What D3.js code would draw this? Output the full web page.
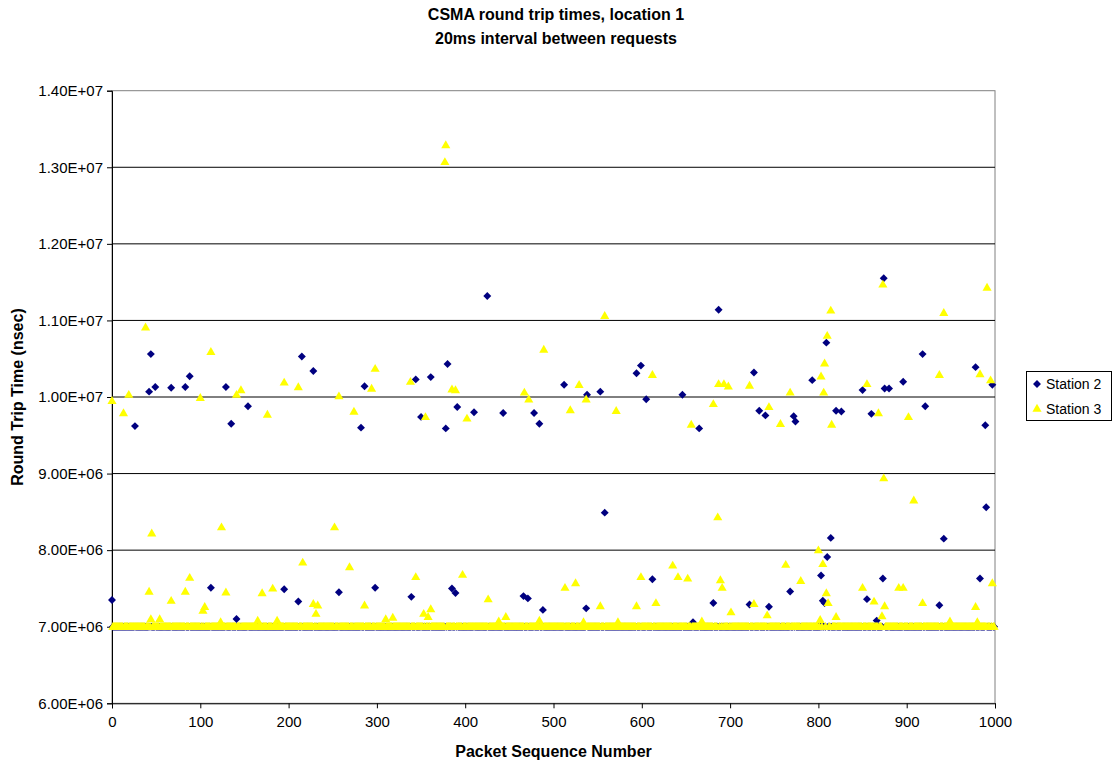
<!DOCTYPE html>
<html>
<head>
<meta charset="utf-8">
<script src="https://cdn.jsdelivr.net/npm/d3@7"></script>
<style>
  html, body { margin: 0; padding: 0; background: #fff; }
  svg { display: block; font-family: "Liberation Sans", Arial, sans-serif; }
</style>
</head>
<body>
<svg id="chart" width="1116" height="762"></svg>
<script>
// Axis ticks
const xTicks = [0, 100, 200, 300, 400, 500, 600, 700, 800, 900, 1000];
const yTicks = [6e6, 7e6, 8e6, 9e6, 1.0e7, 1.1e7, 1.2e7, 1.3e7, 1.4e7];

// Packets 0..999 sit at the 7.0E+06 floor unless listed below
const packetCount = 1000;
const floorRtt = 7.0e6;

// Station 2: packet number and round trip time (units of 1E+06 nsec)
const station2Seq = [0, 26, 42, 44, 49, 67, 83, 88, 112, 129, 135, 141, 154, 195, 211, 215, 228, 257, 282, 286,
  298, 339, 344, 350, 361, 378, 380, 385, 389, 391, 410, 425, 443, 466, 471, 478, 484, 488, 512, 537,
  538, 553, 558, 594, 599, 605, 612, 646, 658, 665, 681, 687, 722, 727, 733, 740, 744, 768, 772, 774,
  793, 803, 805, 807, 809, 810, 814, 820, 826, 850, 855, 860, 866, 873, 874, 875, 880, 896, 918, 921,
  937, 942, 978, 983, 989, 990, 997];
const station2Rtt = [7.35, 9.62, 10.07, 10.56, 10.13, 10.12, 10.13, 10.27, 7.51, 10.13, 9.65, 7.10, 9.88, 7.49, 7.33, 10.53, 10.34, 7.45, 9.60, 10.14,
  7.51, 7.39, 10.23, 9.74, 10.26, 9.59, 10.43, 7.50, 7.44, 9.87, 9.80, 11.32, 9.79, 7.40, 7.37, 9.79, 9.65, 7.22, 10.16, 7.24,
  10.03, 10.07, 8.49, 10.31, 10.41, 9.97, 7.62, 10.03, 7.06, 9.59, 7.31, 11.14, 7.29, 10.32, 9.82, 9.76, 7.26, 7.46, 9.75, 9.68,
  10.22, 7.67, 7.34, 7.31, 10.71, 7.91, 8.16, 9.82, 9.81, 10.09, 7.36, 9.78, 7.08, 7.63, 11.55, 10.11, 10.11, 10.20, 10.56, 9.88,
  7.28, 8.15, 10.39, 7.63, 9.63, 8.56, 10.16];

// Station 3: packet number and round trip time (units of 1E+06 nsec)
const station3Seq = [0, 13, 19, 38, 42, 44, 45, 54, 67, 83, 88, 100, 103, 105, 112, 123, 124, 129, 141, 146,
  165, 170, 176, 182, 187, 195, 211, 216, 228, 231, 233, 252, 257, 269, 274, 286, 294, 298, 310, 318,
  338, 344, 353, 355, 358, 361, 377, 378, 385, 389, 397, 402, 426, 438, 446, 467, 472, 484, 489, 513,
  519, 525, 529, 534, 537, 553, 558, 571, 573, 594, 599, 612, 616, 635, 641, 652, 656, 668, 681, 686,
  687, 689, 691, 693, 698, 701, 722, 727, 742, 744, 757, 763, 768, 780, 800, 802, 803, 805, 806, 807,
  809, 810, 811, 814, 815, 820, 850, 855, 863, 868, 872, 873, 874, 875, 891, 896, 902, 908, 918, 937,
  942, 949, 978, 980, 983, 991, 995, 997];
const station3Rtt = [9.95, 9.79, 10.03, 10.91, 7.46, 7.10, 8.22, 7.10, 7.34, 7.46, 7.64, 9.99, 7.21, 7.26, 10.59, 7.06, 8.30, 7.45, 10.03, 10.09,
  7.08, 7.44, 9.77, 7.50, 7.08, 10.19, 10.13, 7.84, 7.30, 7.17, 7.28, 8.30, 10.01, 7.78, 9.81, 7.28, 10.11, 10.37, 7.10, 7.12,
  10.20, 7.65, 7.17, 9.74, 7.13, 7.23, 13.07, 13.29, 10.10, 10.09, 7.68, 9.72, 7.36, 7.07, 7.13, 10.06, 9.97, 7.08, 10.62, 7.51,
  9.83, 7.57, 10.16, 7.06, 9.97, 7.27, 11.06, 9.82, 7.06, 7.27, 7.65, 10.29, 7.31, 7.80, 7.65, 7.63, 9.64, 7.07, 9.91, 8.43,
  10.17, 7.61, 7.51, 10.17, 10.14, 7.19, 10.15, 7.30, 7.15, 9.87, 9.65, 7.81, 10.06, 7.60, 8.00, 7.09, 10.27, 7.82, 10.06, 10.44,
  7.44, 10.80, 7.31, 11.13, 9.64, 7.13, 7.51, 10.17, 7.33, 9.79, 7.14, 11.47, 8.94, 7.27, 7.51, 7.51, 9.74, 8.65, 7.31, 10.29,
  11.10, 7.07, 7.26, 7.06, 10.30, 11.43, 10.22, 7.57];

const seriesNames = ["Station 2", "Station 3"];
const seriesColors = ["#000080", "#FFFF00"];

// Build the full per-packet series for one station
function buildSeries(seqs, rtts) {
  const listed = new Map(seqs.map((s, i) => [s, rtts[i] * 1e6]));
  return d3.range(packetCount).map(s => ({ seq: s, rtt: listed.has(s) ? listed.get(s) : floorRtt }));
}
const station2 = buildSeries(station2Seq, station2Rtt);
const station3 = buildSeries(station3Seq, station3Rtt);

const svg = d3.select("#chart");
const plot = { left: 112, right: 995, top: 90.7, bottom: 703.3 };

const x = d3.scaleLinear().domain([0, 1000]).range([plot.left, plot.right]);
const y = d3.scaleLinear().domain([6e6, 1.4e7]).range([plot.bottom, plot.top]);

// "1.40E+07" style labels
function sci(v) {
  const e = Math.floor(Math.log10(v));
  const m = v / Math.pow(10, e);
  return m.toFixed(2) + "E" + (e >= 0 ? "+" : "-") + String(Math.abs(e)).padStart(2, "0");
}

// Plot area frame
svg.append("rect")
  .attr("x", plot.left).attr("y", plot.top)
  .attr("width", plot.right - plot.left).attr("height", plot.bottom - plot.top)
  .attr("fill", "#fff").attr("stroke", "#808080").attr("stroke-width", 1);

// Horizontal gridlines
svg.append("g").selectAll("line")
  .data(yTicks.filter(t => t > 6e6 && t < 1.4e7))
  .join("line")
  .attr("x1", plot.left).attr("x2", plot.right)
  .attr("y1", d => y(d)).attr("y2", d => y(d))
  .attr("stroke", "#000").attr("stroke-width", 1);

// Axes
const yAxis = d3.axisLeft(y).tickValues(yTicks).tickFormat(sci).tickSizeOuter(0).tickSize(5).tickPadding(4);
const xAxis = d3.axisBottom(x).tickValues(xTicks).tickFormat(d3.format("d")).tickSizeOuter(0).tickSize(5).tickPadding(8);

const gy = svg.append("g").attr("transform", `translate(${plot.left},0)`).call(yAxis);
const gx = svg.append("g").attr("transform", `translate(0,${plot.bottom})`).call(xAxis);
[gx, gy].forEach(g => {
  g.selectAll("path.domain").attr("stroke", "#000");
  g.selectAll(".tick line").attr("stroke", "#000");
  g.selectAll(".tick text").attr("fill", "#000").style("font-size", "15px")
    .style("font-family", "'Liberation Sans', Arial, sans-serif");
});

// Markers
const diamond = d3.symbol().type(d3.symbolDiamond2).size(40);
const triangle = d3.symbol().type(d3.symbolTriangle).size(36);

svg.append("g").selectAll("path")
  .data(station2)
  .join("path")
  .attr("transform", d => `translate(${x(d.seq)},${y(d.rtt)})`)
  .attr("d", diamond)
  .attr("fill", seriesColors[0]);

svg.append("g").selectAll("path")
  .data(station3)
  .join("path")
  .attr("transform", d => `translate(${x(d.seq)},${y(d.rtt) + 0.5})`)
  .attr("d", triangle)
  .attr("fill", seriesColors[1]);

// Titles
const title = svg.append("text").attr("text-anchor", "middle")
  .style("font-weight", "bold").style("font-size", "16px");
title.append("tspan").attr("x", 556).attr("y", 20).text("CSMA round trip times, location 1");
title.append("tspan").attr("x", 556).attr("y", 44).text("20ms interval between requests");

svg.append("text")
  .attr("x", (plot.left + plot.right) / 2).attr("y", 757)
  .attr("text-anchor", "middle")
  .style("font-weight", "bold").style("font-size", "16px")
  .text("Packet Sequence Number");

svg.append("text")
  .attr("transform", `translate(23,${(plot.top + plot.bottom) / 2}) rotate(-90)`)
  .attr("text-anchor", "middle")
  .style("font-weight", "bold").style("font-size", "16px")
  .text("Round Trip Time (nsec)");

// Legend
const legend = svg.append("g");
legend.append("rect")
  .attr("x", 1026.5).attr("y", 371.5).attr("width", 85).attr("height", 49)
  .attr("fill", "#fff").attr("stroke", "#000").attr("stroke-width", 1);
const items = legend.selectAll("g.item").data(seriesNames).join("g")
  .attr("class", "item")
  .attr("transform", (d, i) => `translate(1037,${384 + i * 25})`);
items.append("path")
  .attr("d", (d, i) => (i === 0 ? diamond : triangle)())
  .attr("fill", (d, i) => seriesColors[i]);
items.append("text")
  .attr("x", 9).attr("y", 5)
  .style("font-size", "14px")
  .text(d => d);
</script>
</body>
</html>
